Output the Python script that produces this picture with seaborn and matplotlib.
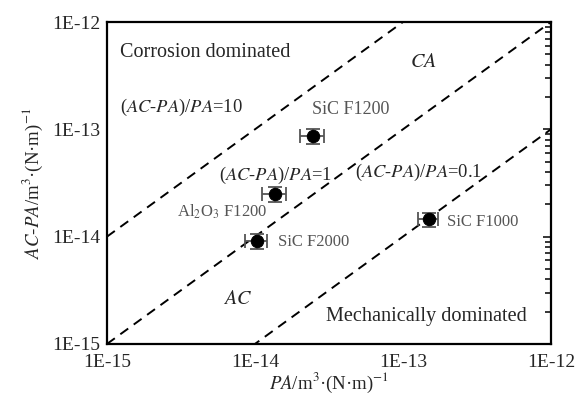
import numpy as np
import pandas as pd
import seaborn as sns
import matplotlib.pyplot as plt
from matplotlib.ticker import LogLocator, FuncFormatter, NullFormatter

# data
samples = ["SiC F1200", "Al$_2$O$_3$ F1200", "SiC F2000", "SiC F1000"]
pa = [2.46e-14, 1.36e-14, 1.03e-14, 1.50e-13]
ac_pa = [8.7e-14, 2.5e-14, 9.1e-15, 1.45e-14]
pa_err = [0.45e-14, 0.25e-14, 0.17e-14, 0.24e-13]
ac_pa_err = [1.4e-14, 0.4e-14, 0.15e-14, 0.22e-14]

ratios = [10, 1, 0.1]
x_range = [1e-15, 1e-12]

sns.set_style("white")
plt.rcParams['font.family'] = ['Liberation Serif', 'DejaVu Serif']
plt.rcParams['mathtext.fontset'] = 'stix'

fig = plt.figure(figsize=(5.75, 3.94), dpi=100)
ax = fig.add_axes([0.186, 0.127, 0.772, 0.817])

for r in ratios:
    line = pd.DataFrame({"x": x_range, "y": [r * v for v in x_range]})
    sns.lineplot(data=line, x="x", y="y", ax=ax, color="black", lw=1.4,
                 linestyle=(0, (5, 3.5)), legend=False)

ax.errorbar(pa, ac_pa, xerr=pa_err, yerr=ac_pa_err, fmt="none", ecolor="#555555",
            elinewidth=1.3, capsize=5, capthick=1.3, zorder=3)
df = pd.DataFrame({"PA": pa, "ACPA": ac_pa, "sample": samples})
sns.scatterplot(data=df, x="PA", y="ACPA", ax=ax, color="black", s=80,
                edgecolor="black", zorder=4, legend=False)

ax.set_xscale("log")
ax.set_yscale("log")
ax.set_xlim(1e-15, 1e-12)
ax.set_ylim(1e-15, 1e-12)

fmt = FuncFormatter(lambda v, p: "1E%d" % round(np.log10(v)))
for axis in (ax.xaxis, ax.yaxis):
    axis.set_major_locator(LogLocator(base=10))
    axis.set_minor_locator(LogLocator(base=10, subs=np.arange(2, 10)))
    axis.set_major_formatter(fmt)
    axis.set_minor_formatter(NullFormatter())

ax.tick_params(which="both", direction="in", top=False, right=True, labelsize=14, width=1.3)
ax.tick_params(which="major", length=6)
ax.tick_params(which="minor", length=4)
ax.tick_params(axis="x", pad=7)
ax.tick_params(axis="y", pad=5)
for s in ax.spines.values():
    s.set_linewidth(1.6)
    s.set_color("black")

ax.set_xlabel(r"$\mathit{PA}$/m$^{3}$·(N·m)$^{-1}$", fontsize=13.5, labelpad=0)
ax.set_ylabel(r"$\mathit{AC}$-$\mathit{PA}$/m$^{3}$·(N·m)$^{-1}$", fontsize=13.5, labelpad=5)

t = ax.transAxes
ax.text(0.03, 0.907, "Corrosion dominated", transform=t, fontsize=14.5, va="center")
ax.text(0.03, 0.736, r"($\mathit{AC}$-$\mathit{PA}$)/$\mathit{PA}$=10", transform=t, fontsize=13.3, va="center")
ax.text(0.252, 0.525, r"($\mathit{AC}$-$\mathit{PA}$)/$\mathit{PA}$=1", transform=t, fontsize=13.3, va="center")
ax.text(0.559, 0.534, r"($\mathit{AC}$-$\mathit{PA}$)/$\mathit{PA}$=0.1", transform=t, fontsize=13.3, va="center")
ax.text(0.712, 0.873, r"$\mathit{CA}$", transform=t, fontsize=14.5, ha="center", va="center")
ax.text(0.295, 0.137, r"$\mathit{AC}$", transform=t, fontsize=14.5, ha="center", va="center")
ax.text(0.946, 0.084, "Mechanically dominated", transform=t, fontsize=14.6, ha="right", va="center")

grey = "#555555"
ax.text(0.462, 0.727, samples[0], transform=t, fontsize=13, color=grey, va="center")
ax.text(0.158, 0.41, samples[1], transform=t, fontsize=12, color=grey, va="center")
ax.text(0.385, 0.317, samples[2], transform=t, fontsize=12, color=grey, va="center")
ax.text(0.766, 0.379, samples[3], transform=t, fontsize=12, color=grey, va="center")

fig.savefig("out.png", dpi=100)
